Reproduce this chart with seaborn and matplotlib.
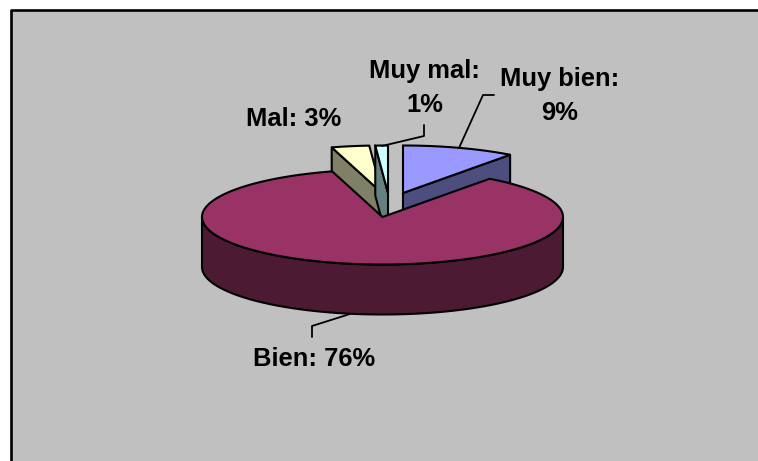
import numpy as np
import seaborn as sns
import matplotlib.pyplot as plt
from matplotlib.patches import Rectangle

categories = ["Muy bien", "Bien", "Mal", "Muy mal"]
values = [9, 76, 3, 1]

top_colors = ["#9999FF", "#993366", "#FFFFCC", "#CCFFFF"]
side_colors = ["#4D4D80", "#4D1A33", "#808066", "#668080"]

# where each apex sits, bien is the one that is not pulled out
apex_x = [403, 382.5, 382, 388]
apex_y = [193, 217, 193, 193]
rx, ry = 180.5, 47.5
depth = 50
edge = 1.5

sns.set_theme(style="white")
plt.rcParams['font.family'] = ['Liberation Sans', 'DejaVu Sans']

fig = plt.figure(figsize=(7.58, 4.61), dpi=100, facecolor="white")
ax = fig.add_axes([0, 0, 1, 1])
ax.set_xlim(0, 758)
ax.set_ylim(461, 0)
ax.axis("off")

# frame only shows on the left and the top
ax.add_patch(Rectangle((10.5, 10), 748, 452, fc="#C0C0C0", ec="none"))
ax.plot([10.5, 10.5, 758], [461, 10, 10], color="black", lw=1.9)

# angles clockwise from the top
share = np.array(values) / sum(values) * 360
stops = np.concatenate([[0], np.cumsum(share)])


def rim(i, a):
    t = np.radians(a)
    return apex_x[i] + rx * np.sin(t), apex_y[i] - ry * np.cos(t)


def cut_face(i, a):
    x, y = rim(i, a)
    ax.fill([apex_x[i], x, x, apex_x[i]], [apex_y[i], y, y + depth, apex_y[i] + depth],
            fc=side_colors[i], ec="black", lw=edge, joinstyle="round")


def top_face(i):
    a = np.linspace(stops[i], stops[i + 1], 200)
    x, y = rim(i, a)
    ax.fill(np.r_[apex_x[i], x], np.r_[apex_y[i], y], fc=top_colors[i], ec="black", lw=edge)


# back slices first, the big one covers them
cut_face(0, stops[1])
top_face(0)
cut_face(2, stops[2])
top_face(2)
cut_face(3, stops[3])
top_face(3)

a = np.linspace(90, 270, 200)
x, y = rim(1, a)
ax.fill(np.r_[x, x[::-1]], np.r_[y, y[::-1] + depth], fc=side_colors[1], ec="black", lw=edge)
top_face(1)

# leader lines
ax.plot([459, 483, 494], [148, 95, 95], color="black", lw=1.3)
ax.plot([382, 424, 424], [146, 136, 125], color="black", lw=1.3)
ax.plot([350, 312, 312], [314, 326, 337], color="black", lw=1.3)

label_x = [560, 314, 293.5, 424.5]
label_y = [86, 366, 126, 78]
label_text = [[f"{categories[0]}:", f"{values[0]}%"], [f"{categories[1]}: {values[1]}%"],
              [f"{categories[2]}: {values[2]}%"], [f"{categories[3]}:", f"{values[3]}%"]]
for tx, ty, lines in zip(label_x, label_y, label_text):
    for n, s in enumerate(lines):
        ax.text(tx, ty + 34 * n, s, ha="center", va="baseline", fontsize=18.4,
                fontweight="bold", color="black")

fig.savefig("out.png", dpi=100)
